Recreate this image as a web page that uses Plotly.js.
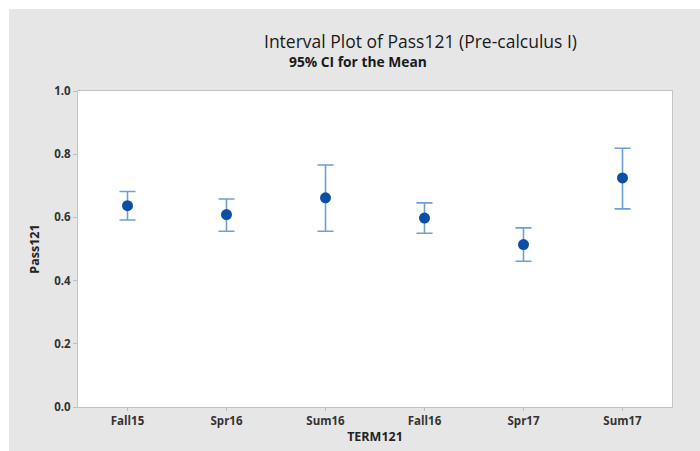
<!DOCTYPE html>
<html>
<head>
<meta charset="utf-8">
<script src="https://cdn.plot.ly/plotly-3.0.1.min.js"></script>
<style>
html,body{margin:0;padding:0;background:#ffffff;width:700px;height:451px;overflow:hidden;}
#chart{position:absolute;left:9px;top:9px;width:691px;height:442px;}
</style>
</head>
<body>
<div id="chart"></div>
<script>
const terms = ["Fall15", "Spr16", "Sum16", "Fall16", "Spr17", "Sum17"];
const means = [0.637, 0.609, 0.662, 0.598, 0.514, 0.725];
const upperCI = [0.682, 0.658, 0.766, 0.646, 0.567, 0.819];
const lowerCI = [0.592, 0.556, 0.556, 0.550, 0.461, 0.627];
const yTicks = [0.0, 0.2, 0.4, 0.6, 0.8, 1.0];

const plus = upperCI.map((u, i) => u - means[i]);
const minus = means.map((m, i) => m - lowerCI[i]);

const trace = {
  type: "scatter",
  mode: "markers",
  x: terms,
  y: means,
  marker: {color: "#0a4fa3", size: 11},
  error_y: {
    type: "data",
    symmetric: false,
    array: plus,
    arrayminus: minus,
    color: "#6f9fd3",
    thickness: 1.6,
    width: 8
  },
  hoverinfo: "x+y"
};

const tickFont = {family: "Open Sans, Noto Sans, sans-serif", size: 11.5, color: "#333333", weight: "bold"};

const layout = {
  width: 691,
  height: 442,
  paper_bgcolor: "#e6e6e6",
  plot_bgcolor: "#ffffff",
  margin: {l: 69, r: 28, t: 82, b: 44},
  showlegend: false,
  xaxis: {
    type: "category",
    range: [-0.5, 5.5],
    tickfont: tickFont,
    ticks: "outside",
    ticklen: 3,
    tickcolor: "#bdbdbd",
    showline: true,
    linecolor: "#c4c4c4",
    linewidth: 1,
    mirror: true,
    showgrid: false,
    zeroline: false,
    title: {text: "TERM121", font: {family: "Open Sans, Noto Sans, sans-serif", size: 12.5, color: "#222222", weight: "bold"}, standoff: 5},
    automargin: false
  },
  yaxis: {
    range: [0, 1.0],
    tickvals: yTicks,
    ticktext: yTicks.map(v => v.toFixed(1)),
    tickfont: tickFont,
    ticks: "outside",
    ticklen: 4,
    tickcolor: "#bdbdbd",
    showline: true,
    linecolor: "#c4c4c4",
    linewidth: 1,
    mirror: true,
    showgrid: false,
    zeroline: false,
    title: {text: "Pass121", font: {family: "Open Sans, Noto Sans, sans-serif", size: 12.5, color: "#222222", weight: "bold"}, standoff: 11},
    automargin: false
  },
  annotations: [
    {text: "Interval Plot of Pass121 (Pre-calculus I)", xref: "paper", yref: "paper", x: 0.576, y: 1.158,
     xanchor: "center", yanchor: "middle", showarrow: false,
     font: {family: "Open Sans, Noto Sans, sans-serif", size: 17.5, color: "#1a1a1a"}},
    {text: "95% CI for the Mean", xref: "paper", yref: "paper", x: 0.471, y: 1.092,
     xanchor: "center", yanchor: "middle", showarrow: false,
     font: {family: "Open Sans, Noto Sans, sans-serif", size: 13.8, color: "#1a1a1a", weight: "bold"}}
  ]
};

Plotly.newPlot("chart", [trace], layout, {displayModeBar: false, staticPlot: true});
</script>
</body>
</html>
